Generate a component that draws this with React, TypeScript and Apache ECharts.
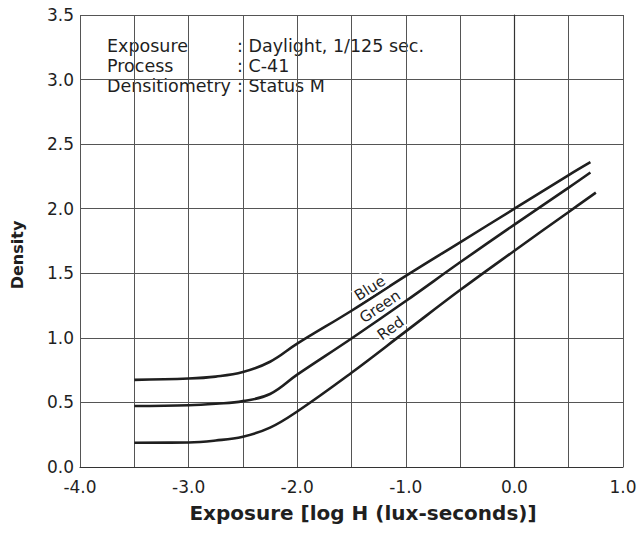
import React, { useEffect, useRef } from "react";
import * as echarts from "echarts";

// ---- Data ----
const blueLogH = [-3.5, -3.0, -2.75, -2.5, -2.25, -2.0, -1.5, -1.0, -0.5, 0.0, 0.5, 0.7];
const blueDensity = [0.675, 0.685, 0.7, 0.735, 0.815, 0.955, 1.21, 1.48, 1.74, 2.0, 2.26, 2.36];

const greenLogH = [-3.5, -3.0, -2.75, -2.5, -2.25, -2.0, -1.5, -1.0, -0.5, 0.0, 0.5, 0.7];
const greenDensity = [0.472, 0.478, 0.49, 0.51, 0.565, 0.715, 0.995, 1.285, 1.585, 1.877, 2.163, 2.28];

const redLogH = [-3.5, -3.0, -2.75, -2.5, -2.25, -2.0, -1.5, -1.0, -0.5, 0.0, 0.5, 0.75];
const redDensity = [0.188, 0.19, 0.205, 0.235, 0.305, 0.43, 0.73, 1.05, 1.37, 1.675, 1.975, 2.125];

const curveNames = ["Blue", "Green", "Red"];
const curveLabelLogH = [-1.33, -1.238, -1.139];
const curveLabelDensity = [1.384, 1.242, 1.074];
const curveLabelAngle = [32, 34, 36];

const noteKeys = ["Exposure", "Process", "Densitiometry"];
const noteValues = [": Daylight, 1/125 sec.", ": C-41", ": Status M"];

const xTitle = "Exposure [log H (lux-seconds)]";
const yTitle = "Density";

const FONT = "DejaVu Sans";
const INK = "#1f1f1f";

function pairs(xs: number[], ys: number[]) {
  return xs.map((x, i) => [x, ys[i]]);
}

export default function App() {
  const ref = useRef<HTMLDivElement>(null);

  useEffect(() => {
    document.body.style.margin = "0";
    if (!ref.current) return;
    const chart = echarts.init(ref.current, undefined, { renderer: "svg" });

    const seriesData = [
      pairs(blueLogH, blueDensity),
      pairs(greenLogH, greenDensity),
      pairs(redLogH, redDensity),
    ];

    const series = curveNames.map((name, i) => ({
      name,
      type: "line",
      data: seriesData[i],
      showSymbol: false,
      smooth: 0.4,
      lineStyle: { color: INK, width: 2.6 },
      z: 3,
      markPoint: {
        symbol: "circle",
        symbolSize: 0,
        silent: true,
        data: [
          {
            coord: [curveLabelLogH[i], curveLabelDensity[i]],
            value: name,
          },
        ],
        label: {
          show: true,
          position: "inside",
          formatter: name,
          rotate: curveLabelAngle[i],
          fontFamily: FONT,
          fontSize: 15,
          color: INK,
          backgroundColor: "#fff",
          padding: [0, 1, 0, 1],
        },
      },
    }));

    const noteTexts: any[] = [];
    noteKeys.forEach((k, i) => {
      const y = 45.5 + i * 20;
      noteTexts.push({
        type: "text",
        x: 107,
        y,
        style: {
          text: k,
          fontFamily: FONT,
          fontSize: 17.5,
          fill: INK,
          verticalAlign: "middle",
        },
      });
      noteTexts.push({
        type: "text",
        x: 237,
        y,
        style: {
          text: noteValues[i],
          fontFamily: FONT,
          fontSize: 17.5,
          fill: INK,
          verticalAlign: "middle",
        },
      });
    });

    chart.setOption({
      animation: false,
      backgroundColor: "#fff",
      grid: { left: 80, right: 18, top: 15, bottom: 68, containLabel: false },
      xAxis: {
        type: "value",
        min: -4,
        max: 1,
        interval: 0.5,
        name: xTitle,
        nameLocation: "middle",
        nameGap: 36,
        nameTextStyle: {
          fontFamily: FONT,
          fontWeight: "bold",
          fontSize: 20,
          color: INK,
          padding: [0, 0, 0, 23],
        },
        axisLine: { show: true, lineStyle: { color: "#333", width: 1.2 } },
        axisTick: { show: false },
        axisLabel: {
          margin: 11,
          fontFamily: FONT,
          fontSize: 17,
          color: INK,
          formatter: (v: number) => (Number.isInteger(v) ? v.toFixed(1) : ""),
        },
        splitLine: { show: true, lineStyle: { color: "#555", width: 1 } },
      },
      yAxis: {
        type: "value",
        min: 0,
        max: 3.5,
        interval: 0.5,
        name: yTitle,
        nameLocation: "middle",
        nameGap: 55,
        nameTextStyle: {
          fontFamily: FONT,
          fontWeight: "bold",
          fontSize: 16,
          color: INK,
          padding: [0, 28, 0, 0],
        },
        axisLine: { show: true, lineStyle: { color: "#333", width: 1.2 } },
        axisTick: { show: false },
        axisLabel: {
          margin: 6,
          fontFamily: FONT,
          fontSize: 17,
          color: INK,
          formatter: (v: number) => v.toFixed(1),
        },
        splitLine: { show: true, lineStyle: { color: "#555", width: 1 } },
      },
      series,
      graphic: [
        {
          type: "group",
          z: 10,
          children: [
            {
              type: "rect",
              shape: { x: 100, y: 28, width: 338, height: 78 },
              style: { fill: "#fff" },
            },
            ...noteTexts,
          ],
        },
      ],
    });

    return () => chart.dispose();
  }, []);

  return <div ref={ref} style={{ width: 641, height: 535 }} />;
}
